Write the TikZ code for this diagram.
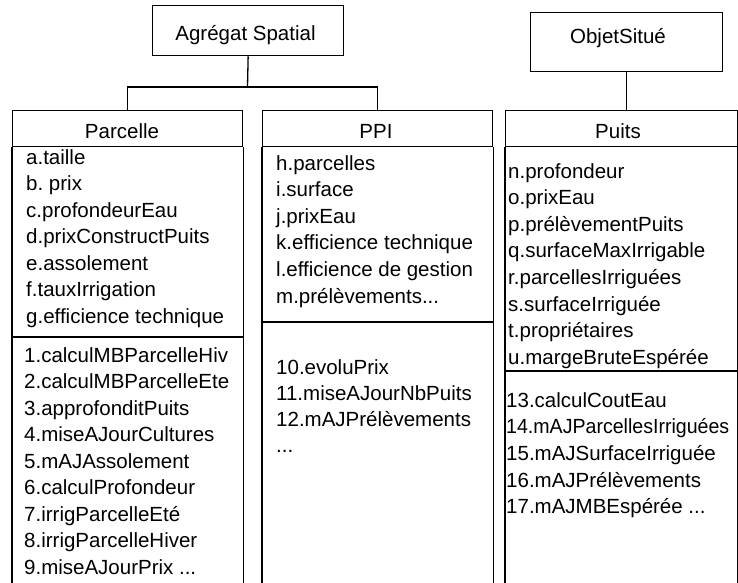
\documentclass[tikz,border=0pt]{standalone}
\usepackage{fontspec}
\setmainfont{Liberation Sans}[Ligatures=NoCommon]
\newcommand\mydots{...}
\frenchspacing
\begin{document}
\begin{tikzpicture}[x=1pt,y=-1pt,
  txt/.style={font=\fontsize{20.5}{24}\selectfont, inner sep=0pt},
  ln/.style={line width=1.3pt},
  hdr/.style={draw, line width=1.3pt, rectangle, inner sep=0pt, anchor=north west},
]
\useasboundingbox (0,0) rectangle (738,582);

% top classes
\node[hdr, minimum width=191pt, minimum height=50pt] (agg) at (152,5) {};
\node[txt, anchor=base] (aggt) at (245.5,40) {Agrégat Spatial};
\node[hdr, minimum width=192pt, minimum height=59pt] (obj) at (530,12) {};
\node[txt, anchor=base] (objt) at (618,43) {ObjetSitué};

% class headers
\node[hdr, minimum width=230pt, minimum height=36pt] (parcelle) at (12,110) {};
\node[txt, anchor=base] (parcellet) at (122,138) {Parcelle};
\node[hdr, minimum width=230pt, minimum height=36pt] (ppi) at (262,110) {};
\node[txt, anchor=base] (ppit) at (376,138) {PPI};
\node[hdr, minimum width=231.5pt, minimum height=36pt] (puits) at (505,110) {};
\node[txt, anchor=base] (puitst) at (618,138) {Puits};

% connectors
\coordinate (bus) at (247.5,87);
\draw[ln] (agg.south) -- (bus);
\draw[ln] (parcelle.north) |- (bus) -| (ppi.north);
\draw[ln] (obj.south) -- (obj.south |- puits.north);

% column outlines
\foreach \n/\s in {parcelle/337, ppi/322, puits/371}{
  \draw[ln] (\n.south west) -- (\n.south west |- 0,586);
  \draw[ln] (\n.south east) -- (\n.south east |- 0,586);
  \draw[ln] (\n.south west |- 0,\s) -- (\n.south east |- 0,\s);
}

% Parcelle attributes
\foreach \t [count=\i] in {a.taille, b. prix, c.profondeurEau, d.prixConstructPuits, e.assolement, f.tauxIrrigation, g.efficience technique}
  \node[txt, anchor=base west] (pa\i) at ({26},{164+(\i-1)*26.5}) {\t};
% Parcelle methods
\foreach \t [count=\i] in {1.calculMBParcelleHiv, 2.calculMBParcelleEte, 3.approfonditPuits, 4.miseAJourCultures, 5.mAJAssolement, 6.calculProfondeur, 7.irrigParcelleEté, 8.irrigParcelleHiver, 9.miseAJourPrix \mydots}
  \node[txt, anchor=base west] (pm\i) at ({24},{362+(\i-1)*26.5}) {\t};

% PPI attributes
\foreach \t [count=\i] in {h.parcelles, i.surface, j.prixEau, k.efficience technique, l.efficience de gestion, m.prélèvements\mydots}
  \node[txt, anchor=base west] (ia\i) at ({276},{170+(\i-1)*26.6}) {\t};
% PPI methods
\foreach \t [count=\i] in {10.evoluPrix, 11.miseAJourNbPuits, 12.mAJPrélèvements, \mydots}
  \node[txt, anchor=base west] (im\i) at ({276},{374+(\i-1)*26}) {\t};

% Puits attributes
\foreach \t [count=\i] in {n.profondeur, o.prixEau, p.prélèvementPuits, q.surfaceMaxIrrigable, r.parcellesIrriguées, s.surfaceIrriguée, t.propriétaires, u.margeBruteEspérée}
  \node[txt, anchor=base west] (ua\i) at ({508},{178+(\i-1)*26.6}) {\t};
% Puits methods
\foreach \t [count=\i] in {13.calculCoutEau, \scalebox{0.955}[1]{14.mAJParcellesIrriguées}, 15.mAJSurfaceIrriguée, 16.mAJPrélèvements, 17.mAJMBEspérée \mydots}
  \node[txt, anchor=base west] (um\i) at ({506},{407+(\i-1)*26.7}) {\t};
\end{tikzpicture}
\end{document}
